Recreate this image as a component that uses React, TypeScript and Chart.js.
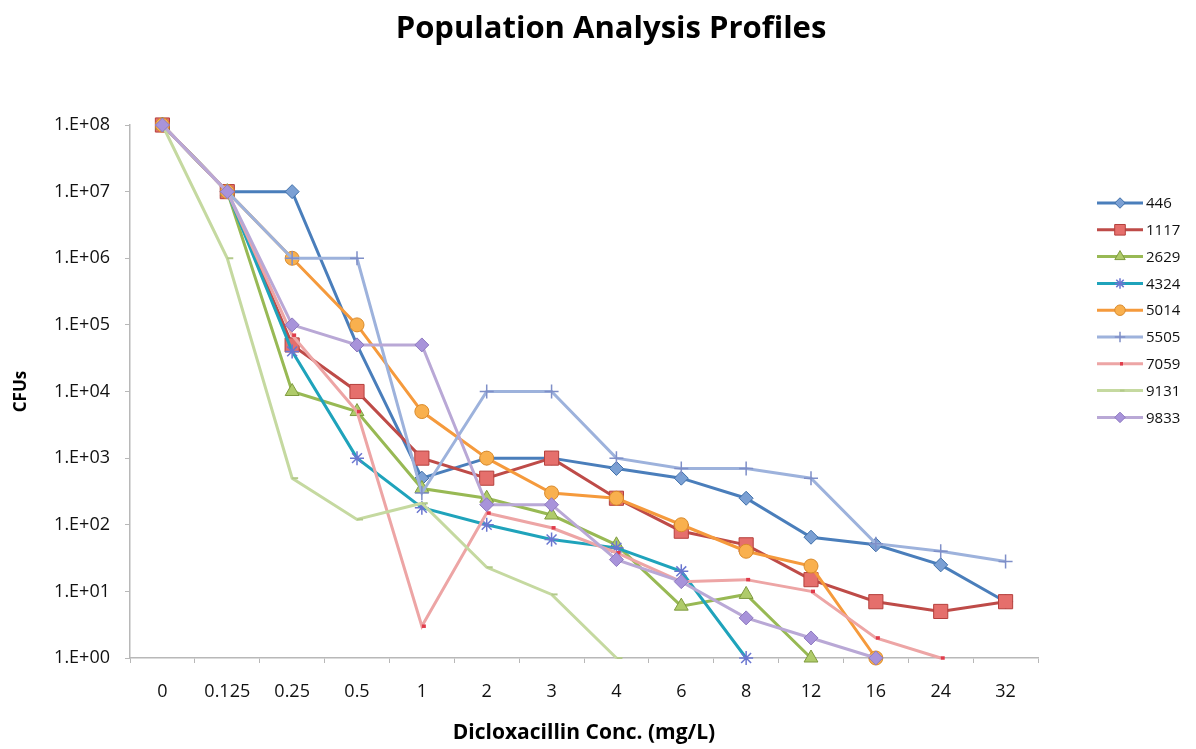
import React, { useEffect, useRef } from "react";
import { Chart, registerables } from "chart.js";
import { drawPoint } from "chart.js/helpers";

Chart.register(...registerables);

const concentrations = ["0", "0.125", "0.25", "0.5", "1", "2", "3", "4", "6", "8", "12", "16", "24", "32"];
const yTickExponents = [0, 1, 2, 3, 4, 5, 6, 7, 8];

const s446 = [1e8, 1e7, 1e7, 5e4, 500, 1000, 1000, 700, 500, 250, 65, 50, 25, 7];
const s1117 = [1e8, 1e7, 5e4, 1e4, 1000, 500, 1000, 250, 80, 50, 15, 7, 5, 7];
const s2629 = [1e8, 1e7, 1e4, 5000, 350, 250, 140, 50, 6, 9, 1, null, null, null];
const s4324 = [1e8, 1e7, 4e4, 1000, 180, 100, 60, 45, 20, 1, null, null, null, null];
const s5014 = [1e8, 1e7, 1e6, 1e5, 5000, 1000, 300, 250, 100, 40, 24, 1, null, null];
const s5505 = [1e8, 1e7, 1e6, 1e6, 300, 1e4, 1e4, 1000, 700, 700, 500, 52, 40, 28];
const s7059 = [1e8, 1e7, 7e4, 5000, 3, 150, 90, 38, 14, 15, 10, 2, 1, null];
const s9131 = [1e8, 1e6, 500, 120, 210, 23, 9, 1, null, null, null, null, null, null];
const s9833 = [1e8, 1e7, 1e5, 5e4, 5e4, 200, 200, 30, 14, 4, 2, 1, null, null];

const seriesNames = ["446", "1117", "2629", "4324", "5014", "5505", "7059", "9131", "9833"];
const seriesValues = [s446, s1117, s2629, s4324, s5014, s5505, s7059, s9131, s9833];

const styles = [
  { line: "#4A7EBB", fill: "#7BA0D4", border: "#3F6FA8", point: "rectRot", r: 7, bw: 1 },
  { line: "#BE4B48", fill: "#E56F6C", border: "#B5403D", point: "rect", r: 10, bw: 1 },
  { line: "#98B954", fill: "#AFCB6A", border: "#7E9A3E", point: "triangle", r: 8, bw: 1 },
  { line: "#1FA3BB", fill: "#6A76D0", border: "#6A76D0", point: "star", r: 7, bw: 1.5 },
  { line: "#F59A3C", fill: "#F9B04E", border: "#D98A2B", point: "circle", r: 7, bw: 1 },
  { line: "#9DB2DC", fill: "#7F8FC8", border: "#7F8FC8", point: "cross", r: 7, bw: 1.5 },
  { line: "#EDA5A5", fill: "#E03C4B", border: "#E03C4B", point: "dash", r: 4, bw: 3.5 },
  { line: "#C5D9A0", fill: "#B3CA8A", border: "#B3CA8A", point: "dash", r: 6, bw: 2 },
  { line: "#B9A8D6", fill: "#A893DA", border: "#8E7AC0", point: "rectRot", r: 7, bw: 1 },
];

const FONT = "'Open Sans', Lato, sans-serif";

const legendPlugin = {
  id: "sideLegend",
  afterDraw(chart: any) {
    const ctx = chart.ctx;
    const x0 = chart.chartArea.right + 59;
    const y0 = 203;
    const step = 26.8;
    ctx.save();
    chart.data.datasets.forEach((ds: any, i: number) => {
      const y = y0 + i * step;
      ctx.strokeStyle = ds.borderColor;
      ctx.lineWidth = 3;
      ctx.beginPath();
      ctx.moveTo(x0, y);
      ctx.lineTo(x0 + 46, y);
      ctx.stroke();
      ctx.fillStyle = ds.pointBackgroundColor;
      ctx.strokeStyle = ds.pointBorderColor;
      ctx.lineWidth = ds.pointBorderWidth;
      drawPoint(ctx, { pointStyle: ds.pointStyle, radius: ds.pointRadius * 0.75, rotation: 0, borderWidth: ds.pointBorderWidth }, x0 + 23, y);
      ctx.fillStyle = "#111";
      ctx.font = `15px ${FONT}`;
      ctx.textAlign = "left";
      ctx.textBaseline = "middle";
      ctx.fillText(ds.label, x0 + 49, y + 1);
    });
    ctx.restore();
  },
};

export default function App() {
  const ref = useRef<HTMLCanvasElement>(null);
  useEffect(() => {
    const datasets = seriesNames.map((name, i) => ({
      label: name,
      data: seriesValues[i],
      borderColor: styles[i].line,
      backgroundColor: styles[i].line,
      borderWidth: 3,
      pointStyle: styles[i].point,
      pointRadius: styles[i].r,
      pointBackgroundColor: styles[i].fill,
      pointBorderColor: styles[i].border,
      pointBorderWidth: styles[i].bw,
      tension: 0,
      spanGaps: false,
      clip: false,
      order: seriesNames.length - i,
    }));
    const chart = new Chart(ref.current!, {
      type: "line",
      data: { labels: concentrations, datasets },
      plugins: [legendPlugin],
      options: {
        responsive: false,
        animation: false,
        layout: { padding: { left: 26, right: 0, top: 0, bottom: 0 } },
        plugins: {
          legend: { display: false },
          tooltip: { enabled: false },
          title: {
            display: true,
            text: "Population Analysis Profiles",
            color: "#000",
            font: { family: FONT, size: 31, weight: "bold" },
            padding: { top: 11, bottom: 76.8 },
          },
        },
        scales: {
          x: {
            type: "category",
            offset: true,
            grid: { display: true, drawOnChartArea: false, drawTicks: true, tickLength: 5, color: "#B8B8B8", offset: true },
            border: { display: true, color: "#B8B8B8", width: 1.5 },
            ticks: { color: "#111", font: { family: FONT, size: 18 }, padding: 18, maxRotation: 0, autoSkip: false },
            title: {
              display: true,
              text: "Dicloxacillin Conc. (mg/L)",
              color: "#000",
              font: { family: FONT, size: 21, weight: "bold" },
              padding: { top: 0, bottom: 3 },
            },
            afterFit: (s: any) => { s.height = 91; },
          },
          y: {
            type: "logarithmic",
            position: "left",
            min: 1,
            max: 1e8,
            grid: { display: true, drawOnChartArea: false, drawTicks: true, tickLength: 5, color: "#B8B8B8" },
            border: { display: true, color: "#B8B8B8", width: 1.5 },
            ticks: {
              color: "#111",
              font: { family: FONT, size: 18 },
              padding: 15,
              callback: (v: any) => {
                const e = Math.round(Math.log10(Number(v)));
                return `1.E+${e < 10 ? "0" + e : e}`;
              },
            },
            afterBuildTicks: (s: any) => {
              s.ticks = yTickExponents.map((e) => ({ value: Math.pow(10, e) }));
            },
            title: {
              display: true,
              text: "CFUs",
              color: "#000",
              font: { family: FONT, size: 17, weight: "bold" },
              padding: { top: -15, bottom: 0 },
            },
            afterFit: (s: any) => { s.width = 104; },
          },
          spacer: {
            type: "linear",
            position: "right",
            display: true,
            grid: { display: false },
            border: { display: false },
            ticks: { display: false },
            afterFit: (s: any) => { s.width = 158; },
          },
        },
      } as any,
    });
    return () => chart.destroy();
  }, []);
  return (
    <div style={{ position: "absolute", left: 0, top: 0, width: 1196, height: 749, background: "#fff" }}>
      <canvas ref={ref} width={1196} height={749} />
    </div>
  );
}
